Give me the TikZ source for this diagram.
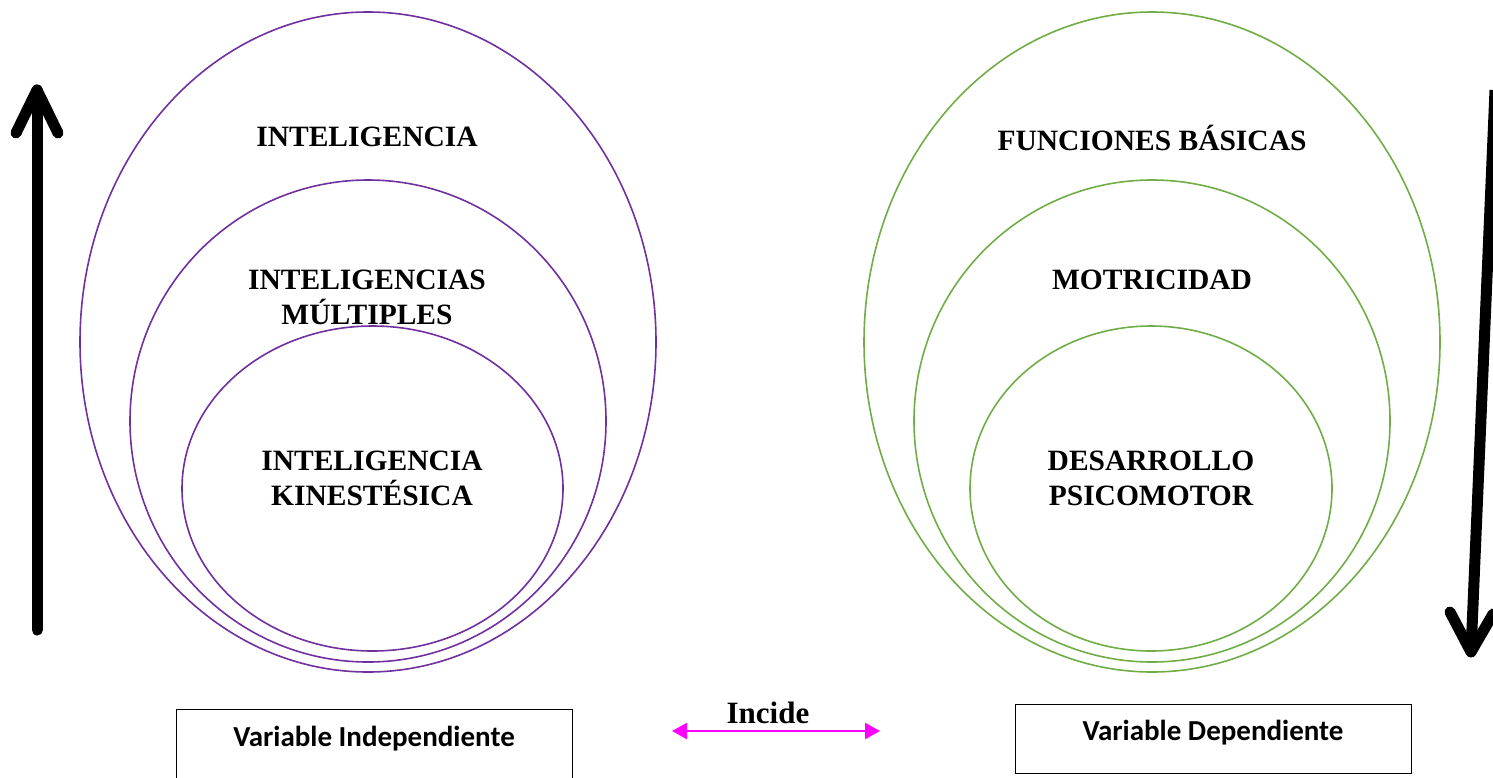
\documentclass[tikz,border=0pt]{standalone}
\usepackage{fontspec}
\setmainfont{Liberation Serif}
\newfontfamily\boxfont{Carlito}
\usetikzlibrary{arrows.meta}
\definecolor{purp}{HTML}{7030A0}
\definecolor{grn}{HTML}{70AD47}
\definecolor{mag}{HTML}{FF00FF}
\begin{document}
\begin{tikzpicture}[x=1pt,y=-1pt,
  purpell/.style={draw=purp,line width=1.6pt},
  grnell/.style={draw=grn,line width=1.6pt},
  lab/.style={font=\fontsize{29.5}{35}\selectfont\bfseries,align=center},
  varbox/.style={draw,line width=1pt,minimum width=396pt,minimum height=69pt},
  vartext/.style={font=\boxfont\fontsize{29}{30}\selectfont\bfseries},
  bigarrow/.style={line width=11pt,line cap=round,line join=round}]
\useasboundingbox (0,0) rectangle (1493,777);
% left ellipses
\draw[purpell] (368,342) ellipse [x radius=288, y radius=330];
\draw[purpell] (368,421) ellipse [x radius=238, y radius=241];
\draw[purpell] (372.5,488.5) ellipse [x radius=190.5, y radius=162.5];
% right ellipses
\draw[grnell] (1152,342) ellipse [x radius=288, y radius=330];
\draw[grnell] (1152,421) ellipse [x radius=238, y radius=241];
\draw[grnell] (1151,488.5) ellipse [x radius=181, y radius=162.5];
% labels
\node[lab] (t1) at (367,137) {INTELIGENCIA};
\node[lab] (t2) at (367,297) {INTELIGENCIAS\\MÚLTIPLES};
\node[lab] (t3) at (372,478) {INTELIGENCIA\\KINESTÉSICA};
\node[lab] (t4) at (1152,138) {FUNCIONES BÁSICAS};
\node[lab] (t5) at (1152,280) {MOTRICIDAD};
\node[lab] (t6) at (1151,478) {DESARROLLO\\PSICOMOTOR};
% left arrow
\coordinate (la0) at (37,630);
\coordinate (la1) at (37,90);
\coordinate (law1) at (16,133);
\coordinate (law2) at (58,133);
\draw[bigarrow] (la0) -- (la1);
\draw[bigarrow] (law1) -- (la1) -- (law2);
% right arrow
\coordinate (ra0) at (1495,90);
\coordinate (ra1) at (1471,652);
\coordinate (raw1) at (1450,612);
\coordinate (raw2) at (1493,614);
\draw[bigarrow,line cap=butt] (ra0) -- (ra1);
\draw[bigarrow] (raw1) -- (ra1) -- (raw2);
% boxes
\node[varbox] (vi) at (374,744) {};
\node[vartext] (vil) at (374,739) {Variable Independiente};
\node[varbox] (vd) at (1213,738.5) {};
\node[vartext] (vdl) at (1213,733) {Variable Dependiente};
% incide
\coordinate (ia) at (672,731);
\coordinate (ib) at (880,731);
\draw[mag,line width=2.5pt,{Triangle[length=15pt,width=16pt]}-{Triangle[length=15pt,width=16pt]}] (ia) -- (ib);
\node[font=\fontsize{31}{33}\selectfont\bfseries] (inc) at (768,713) {Incide};
\end{tikzpicture}
\end{document}
